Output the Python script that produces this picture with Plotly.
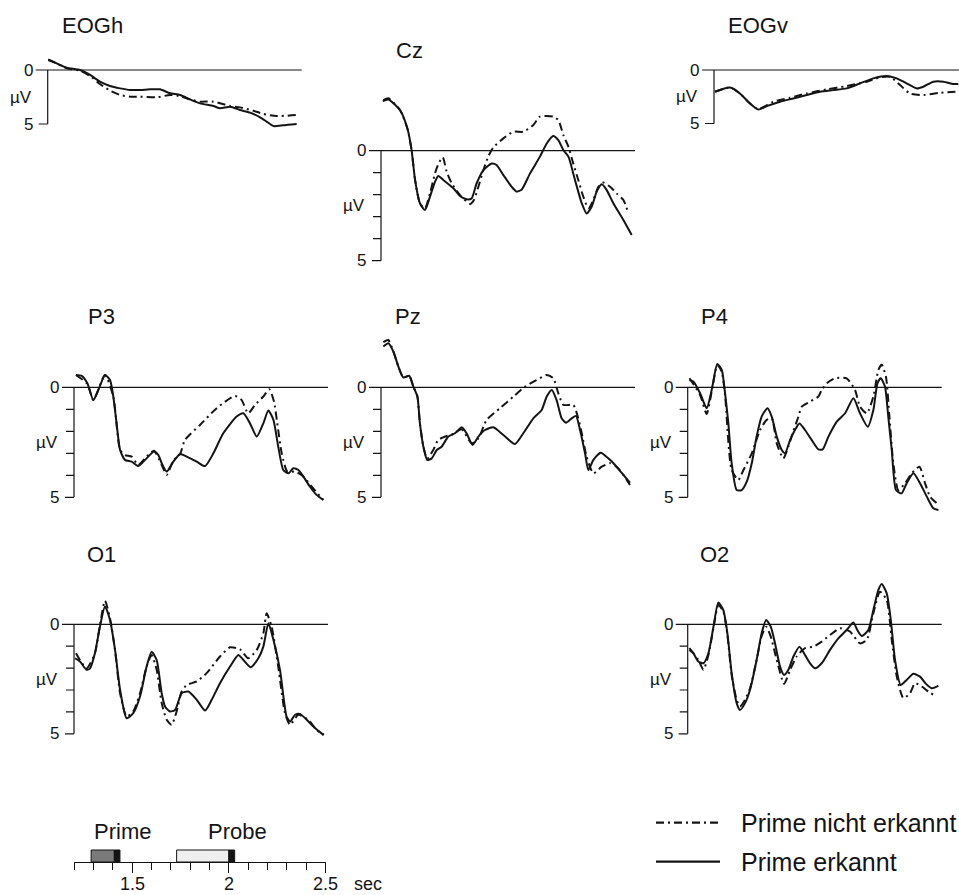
import plotly.graph_objects as go

# Layout is specified on a 959 x 895 design grid; S scales it to the written figure size.
S = 1.0
W0, H0 = 959, 895
W, H = round(W0 * S), round(H0 * S)
FONT = "Liberation Sans, Arial, sans-serif"
INK = "#141414"
SEC_PX = 193.6          # design-grid pixels per second on every time axis
T_START, T_END = 1.2, 2.5

# ---------------------------------------------------------------------------
# Averaged waveforms: time in s, amplitude in µV (positive plotted downward)
# "erk" = Prime erkannt (solid), "nicht" = Prime nicht erkannt (dash-dot)
# ---------------------------------------------------------------------------
eogh_t_erk = [1.203, 1.238, 1.298, 1.367, 1.419, 1.470, 1.522, 1.574, 1.625, 1.677, 1.729, 1.780, 1.832,
              1.884, 1.935, 1.987, 2.056, 2.090, 2.142, 2.193, 2.245, 2.297, 2.331, 2.366, 2.417, 2.486]
eogh_v_erk = [-0.93, -0.68, -0.22, 0.0, 0.46, 1.08, 1.48, 1.70, 1.85, 1.85, 1.79, 1.79, 2.16,
              2.31, 2.72, 3.09, 3.33, 3.55, 3.40, 3.70, 3.95, 4.38, 4.78, 5.19, 5.12, 5.0]
eogh_t_nicht = [1.203, 1.238, 1.298, 1.367, 1.419, 1.470, 1.522, 1.574, 1.625, 1.677, 1.763, 1.832,
                1.884, 1.935, 1.987, 2.056, 2.142, 2.193, 2.262, 2.314, 2.383, 2.486]
eogh_v_nicht = [-0.99, -0.68, -0.15, 0.06, 0.56, 1.30, 1.91, 2.31, 2.47, 2.47, 2.53, 2.31,
                2.41, 2.72, 2.93, 2.93, 3.33, 3.46, 3.77, 4.07, 4.26, 4.17]

eogv_t_erk = [1.205, 1.283, 1.334, 1.386, 1.429, 1.472, 1.541, 1.610, 1.679, 1.748, 1.816, 1.885,
              1.954, 2.023, 2.092, 2.144, 2.195, 2.247, 2.281, 2.333, 2.385, 2.436, 2.462]
eogv_v_erk = [2.03, 1.63, 2.19, 3.13, 3.69, 3.38, 2.97, 2.66, 2.34, 2.03, 1.88, 1.72,
              1.25, 0.78, 0.56, 0.78, 1.25, 1.72, 1.56, 1.09, 1.09, 1.31, 1.31]
eogv_t_nicht = [1.205, 1.283, 1.334, 1.386, 1.429, 1.506, 1.593, 1.679, 1.782, 1.885, 1.989, 2.057,
                2.109, 2.161, 2.212, 2.281, 2.367, 2.462]
eogv_v_nicht = [2.03, 1.63, 2.19, 3.13, 3.65, 2.97, 2.59, 2.19, 1.81, 1.50, 1.09, 0.69,
                0.63, 1.41, 2.19, 2.34, 2.13, 2.03]

cz_t_erk = [1.209, 1.238, 1.298, 1.336, 1.358, 1.376, 1.401, 1.427, 1.453, 1.479, 1.496, 1.522, 1.574,
            1.608, 1.642, 1.668, 1.694, 1.729, 1.772, 1.797, 1.832, 1.875, 1.901, 1.927, 1.970, 2.021,
            2.056, 2.090, 2.116, 2.142, 2.168, 2.202, 2.237, 2.262, 2.288, 2.314, 2.340, 2.366, 2.400,
            2.452, 2.495]
cz_v_erk = [-2.26, -2.33, -1.85, -1.02, -0.03, 1.33, 2.39, 2.70, 2.09, 1.41, 1.15, 1.33, 1.71,
            2.06, 2.21, 2.17, 1.48, 0.88, 0.58, 0.65, 1.11, 1.64, 1.86, 1.76, 1.03, 0.27,
            -0.33, -0.67, -0.48, -0.03, 0.27, 1.33, 2.39, 2.85, 2.55, 1.86, 1.52, 1.79, 2.39,
            3.15, 3.83]
cz_t_nicht = [1.212, 1.238, 1.298, 1.336, 1.358, 1.376, 1.401, 1.427, 1.453, 1.479, 1.496, 1.519, 1.539,
              1.565, 1.608, 1.660, 1.680, 1.703, 1.729, 1.754, 1.780, 1.832, 1.884, 1.935, 1.987, 2.021,
              2.090, 2.116, 2.142, 2.168, 2.193, 2.219, 2.245, 2.271, 2.297, 2.323, 2.348, 2.383, 2.417,
              2.452, 2.478]
cz_v_nicht = [-2.30, -2.38, -1.85, -1.02, -0.03, 1.33, 2.39, 2.62, 1.94, 1.03, 0.61, 0.30, 0.95,
              1.48, 2.02, 2.42, 2.24, 1.64, 0.88, 0.27, -0.15, -0.56, -0.86, -0.86, -1.17, -1.55,
              -1.55, -1.39, -0.71, -0.18, 0.58, 1.33, 2.09, 2.62, 2.24, 1.64, 1.45, 1.64, 1.94,
              2.24, 2.85]

p3_t_erk = [1.210, 1.240, 1.269, 1.300, 1.326, 1.360, 1.386, 1.403, 1.420, 1.438, 1.463, 1.498, 1.532,
            1.575, 1.613, 1.636, 1.653, 1.679, 1.713, 1.748, 1.782, 1.834, 1.877, 1.920, 1.971, 2.040,
            2.075, 2.109, 2.144, 2.178, 2.204, 2.230, 2.255, 2.281, 2.307, 2.333, 2.359, 2.385, 2.419,
            2.453, 2.488]
p3_v_erk = [-0.56, -0.52, -0.18, 0.58, 0.12, -0.56, -0.33, 0.42, 1.64, 2.85, 3.30, 3.38, 3.58,
            3.23, 2.92, 3.08, 3.45, 3.83, 3.38, 3.03, 3.15, 3.38, 3.58, 3.00, 2.09, 1.33,
            1.18, 1.64, 2.24, 1.64, 1.06, 1.48, 2.70, 3.76, 3.91, 3.68, 3.76, 4.06, 4.52,
            4.89, 5.12]
p3_t_nicht = [1.210, 1.269, 1.300, 1.360, 1.403, 1.438, 1.463, 1.498, 1.532, 1.575, 1.613, 1.653, 1.679,
              1.713, 1.748, 1.773, 1.851, 1.937, 2.032, 2.066, 2.100, 2.135, 2.178, 2.209, 2.233, 2.250,
              2.273, 2.302, 2.342, 2.385, 2.428, 2.488]
p3_v_nicht = [-0.56, -0.15, 0.58, -0.56, 0.42, 2.85, 3.08, 3.15, 3.53, 3.15, 2.88, 3.53, 3.98,
              3.33, 3.03, 2.39, 1.71, 0.95, 0.39, 0.58, 1.18, 0.80, 0.42, 0.09, 0.65, 1.64,
              3.00, 3.83, 3.83, 4.06, 4.52, 5.12]

pz_t_erk = [1.212, 1.238, 1.264, 1.290, 1.315, 1.346, 1.367, 1.388, 1.401, 1.419, 1.439, 1.462, 1.488,
            1.513, 1.548, 1.582, 1.617, 1.642, 1.673, 1.703, 1.737, 1.780, 1.832, 1.892, 1.935, 1.987,
            2.030, 2.056, 2.082, 2.107, 2.133, 2.156, 2.185, 2.207, 2.228, 2.254, 2.271, 2.297, 2.335,
            2.374, 2.409, 2.452, 2.486]
pz_v_erk = [-1.85, -2.00, -1.62, -0.94, -0.45, -0.52, -0.03, 0.42, 1.64, 2.70, 3.30, 3.23, 2.85,
            2.70, 2.24, 2.09, 1.82, 2.09, 2.62, 2.24, 1.94, 1.82, 2.17, 2.58, 2.09, 1.41,
            1.03, 0.42, 0.12, 0.58, 1.41, 1.61, 1.41, 1.30, 1.94, 3.00, 3.76, 3.30, 2.97,
            3.23, 3.53, 3.98, 4.33]
pz_t_nicht = [1.212, 1.238, 1.264, 1.290, 1.315, 1.346, 1.367, 1.388, 1.401, 1.419, 1.439, 1.470, 1.496,
              1.531, 1.574, 1.617, 1.668, 1.703, 1.746, 1.815, 1.884, 1.944, 2.004, 2.056, 2.090, 2.116,
              2.142, 2.193, 2.219, 2.237, 2.262, 2.297, 2.340, 2.383, 2.417, 2.452, 2.486]
pz_v_nicht = [-2.05, -2.15, -1.62, -0.94, -0.45, -0.52, -0.03, 0.42, 1.64, 2.70, 3.25, 2.85, 2.39,
              2.24, 2.12, 1.91, 2.55, 2.32, 1.48, 0.95, 0.42, -0.03, -0.33, -0.56, -0.41, 0.27,
              0.80, 0.80, 1.41, 2.09, 3.15, 3.91, 3.61, 3.45, 3.61, 3.98, 4.44]

p4_t_erk = [1.209, 1.229, 1.264, 1.298, 1.324, 1.353, 1.376, 1.393, 1.410, 1.427, 1.453, 1.479, 1.505,
            1.531, 1.556, 1.582, 1.612, 1.634, 1.660, 1.686, 1.703, 1.729, 1.754, 1.777, 1.806, 1.840,
            1.875, 1.897, 1.927, 1.970, 2.013, 2.056, 2.090, 2.130, 2.159, 2.180, 2.197, 2.219, 2.236,
            2.254, 2.276, 2.305, 2.331, 2.366, 2.400, 2.435, 2.469, 2.495]
p4_v_erk = [-0.33, -0.26, 0.27, 0.95, 0.12, -1.06, -0.79, 0.27, 1.64, 3.45, 4.67, 4.67, 4.29,
            3.45, 2.24, 1.33, 0.95, 1.33, 2.24, 2.85, 3.00, 2.39, 1.94, 1.64, 1.94, 2.39,
            2.82, 2.82, 2.24, 1.56, 1.18, 0.50, 1.18, 1.79, 1.03, -0.18, -0.41, -0.03, 1.33,
            2.85, 4.67, 4.82, 4.36, 3.91, 4.36, 4.97, 5.50, 5.58]
p4_t_nicht = [1.209, 1.264, 1.298, 1.324, 1.353, 1.376, 1.393, 1.427, 1.462, 1.488, 1.531, 1.574, 1.608,
              1.634, 1.660, 1.694, 1.720, 1.742, 1.772, 1.789, 1.832, 1.875, 1.892, 1.918, 1.961, 2.021,
              2.064, 2.090, 2.125, 2.159, 2.185, 2.202, 2.224, 2.242, 2.262, 2.288, 2.323, 2.357, 2.397,
              2.426, 2.452, 2.486]
p4_v_nicht = [-0.41, 0.35, 1.21, 0.20, -1.02, -0.70, 0.35, 3.76, 4.21, 3.76, 3.00, 1.94, 1.48,
              1.41, 2.55, 3.23, 2.70, 2.09, 1.33, 0.88, 0.65, 0.42, 0.12, -0.18, -0.41, -0.41,
              0.12, 0.88, 1.18, 0.42, -0.79, -1.02, -0.48, 1.33, 3.45, 4.67, 4.36, 3.91, 3.61,
              4.36, 4.97, 5.27]

o1_t_erk = [1.205, 1.231, 1.265, 1.283, 1.308, 1.334, 1.360, 1.386, 1.412, 1.438, 1.472, 1.506, 1.541,
            1.575, 1.601, 1.627, 1.653, 1.670, 1.696, 1.722, 1.756, 1.791, 1.834, 1.877, 1.911, 1.954,
            2.006, 2.049, 2.075, 2.113, 2.152, 2.178, 2.204, 2.230, 2.264, 2.298, 2.316, 2.342, 2.367,
            2.402, 2.445, 2.488]
o1_v_erk = [1.55, 1.70, 2.08, 2.01, 1.32, 0.11, -0.81, -0.20, 1.17, 2.99, 4.29, 4.06, 3.30,
            1.93, 1.25, 1.63, 3.15, 3.75, 3.98, 3.91, 3.15, 3.07, 3.45, 3.94, 3.45, 2.69,
            1.93, 1.40, 1.63, 1.96, 1.55, 1.02, -0.05, 0.71, 2.08, 4.21, 4.44, 4.13, 4.09,
            4.36, 4.74, 5.05]
o1_t_nicht = [1.210, 1.265, 1.308, 1.334, 1.360, 1.386, 1.412, 1.438, 1.472, 1.506, 1.541, 1.575, 1.601,
              1.627, 1.653, 1.679, 1.704, 1.730, 1.756, 1.782, 1.834, 1.885, 1.954, 2.006, 2.057, 2.100,
              2.144, 2.178, 2.195, 2.221, 2.255, 2.290, 2.316, 2.359, 2.410, 2.453, 2.491]
o1_v_nicht = [1.32, 2.01, 1.32, 0.03, -1.08, -0.27, 1.17, 3.15, 4.21, 3.98, 3.15, 1.93, 1.40,
              2.08, 3.60, 4.36, 4.59, 3.98, 3.07, 2.77, 2.61, 2.23, 1.47, 1.05, 1.14, 1.55,
              1.17, 0.41, -0.50, 0.11, 1.93, 4.06, 4.59, 4.13, 4.36, 4.82, 5.05]

o2_t_erk = [1.209, 1.229, 1.255, 1.281, 1.307, 1.333, 1.358, 1.384, 1.405, 1.427, 1.453, 1.470, 1.496,
            1.522, 1.556, 1.582, 1.605, 1.629, 1.651, 1.677, 1.698, 1.720, 1.746, 1.777, 1.806, 1.832,
            1.858, 1.892, 1.935, 1.978, 2.021, 2.056, 2.076, 2.099, 2.133, 2.159, 2.185, 2.202, 2.228,
            2.249, 2.271, 2.300, 2.331, 2.366, 2.400, 2.431, 2.460, 2.495]
o2_v_erk = [1.17, 1.32, 1.70, 1.78, 1.32, 0.11, -0.99, -0.65, 0.41, 2.23, 3.60, 3.91, 3.60,
            2.99, 1.63, 0.41, -0.20, 0.11, 0.87, 1.93, 2.31, 2.08, 1.47, 1.02, 1.40, 1.78,
            2.01, 1.78, 1.17, 0.64, 0.26, -0.08, 0.26, 0.53, 0.26, -0.65, -1.57, -1.84, -1.41,
            -0.20, 1.63, 2.77, 2.54, 2.26, 2.39, 2.72, 2.92, 2.81]
o2_t_nicht = [1.209, 1.255, 1.281, 1.307, 1.333, 1.358, 1.384, 1.405, 1.427, 1.453, 1.470, 1.496, 1.522,
              1.556, 1.582, 1.605, 1.629, 1.660, 1.698, 1.729, 1.763, 1.806, 1.849, 1.892, 1.935, 1.987,
              2.038, 2.090, 2.125, 2.159, 2.193, 2.228, 2.254, 2.280, 2.314, 2.348, 2.374, 2.409, 2.443,
              2.469]
o2_v_nicht = [1.09, 1.63, 2.08, 1.40, 0.18, -0.88, -0.58, 0.49, 2.31, 3.45, 3.75, 3.45, 2.92,
              1.63, 0.53, 0.11, 0.56, 1.63, 2.72, 2.08, 1.47, 1.09, 1.02, 0.79, 0.49, 0.18,
              0.33, 0.87, 0.71, -0.50, -1.49, -1.11, 0.71, 2.39, 3.37, 3.15, 2.69, 2.84, 3.07,
              3.22]

# stimulus timing on the time scale (s)
prime_on, prime_off, prime_end = 1.288, 1.408, 1.437
probe_on, probe_off, probe_end = 1.730, 2.000, 2.030
time_ticks = [1.5, 2.0, 2.5]
time_ticklabels = ["1.5", "2", "2.5"]
unit_label = "sec"
legend_labels = ["Prime nicht erkannt", "Prime erkannt"]

# Panel layout on the design grid: axis origin (px), µV scale (px per µV), title centre (px)
panels = [
    dict(name="EOGh", erk=(eogh_t_erk, eogh_v_erk), nicht=(eogh_t_nicht, eogh_v_nicht),
         ax=47.7, zy=70.0, s=10.8, eog=True, title=(92, 25)),
    dict(name="Cz", erk=(cz_t_erk, cz_v_erk), nicht=(cz_t_nicht, cz_v_nicht),
         ax=381.0, zy=150.7, s=22.0, eog=False, title=(409, 51)),
    dict(name="EOGv", erk=(eogv_t_erk, eogv_v_erk), nicht=(eogv_t_nicht, eogv_v_nicht),
         ax=714.0, zy=70.0, s=10.7, eog=True, title=(758, 25)),
    dict(name="P3", erk=(p3_t_erk, p3_v_erk), nicht=(p3_t_nicht, p3_v_nicht),
         ax=74.0, zy=387.3, s=22.0, eog=False, title=(101, 316)),
    dict(name="Pz", erk=(pz_t_erk, pz_v_erk), nicht=(pz_t_nicht, pz_v_nicht),
         ax=381.0, zy=387.3, s=22.0, eog=False, title=(408, 316)),
    dict(name="P4", erk=(p4_t_erk, p4_v_erk), nicht=(p4_t_nicht, p4_v_nicht),
         ax=687.7, zy=387.3, s=22.0, eog=False, title=(714, 316)),
    dict(name="O1", erk=(o1_t_erk, o1_v_erk), nicht=(o1_t_nicht, o1_v_nicht),
         ax=74.0, zy=624.3, s=21.9, eog=False, title=(101, 554)),
    dict(name="O2", erk=(o2_t_erk, o2_v_erk), nicht=(o2_t_nicht, o2_v_nicht),
         ax=687.7, zy=624.3, s=21.9, eog=False, title=(714, 554)),
]

DASHDOT = f"{8 * S:.1f}px,{4 * S:.1f}px,{2 * S:.1f}px,{4 * S:.1f}px"
LEFT_PAD = 40   # design px of each panel kept left of its vertical axis (room for labels)
fig = go.Figure()
annotations = []
layout_axes = {}


def px_to_t(dpx):
    return dpx / SEC_PX


def fx_(px):      # design x (px) -> paper fraction
    return px / W0


def fy_(py):      # design y (px, from top) -> paper fraction
    return 1 - py / H0


def font(size):
    return dict(family=FONT, size=size * S, color=INK)


for i, p in enumerate(panels, start=1):
    xname = "x" if i == 1 else f"x{i}"
    yname = "y" if i == 1 else f"y{i}"
    xkey = "xaxis" if i == 1 else f"xaxis{i}"
    ykey = "yaxis" if i == 1 else f"yaxis{i}"

    left_px = max(p["ax"] - LEFT_PAD, 0)
    right_px = min(p["ax"] + 258, W0)
    v_top, v_bot = -3.0, 6.5
    top_px = p["zy"] + v_top * p["s"]
    bot_px = p["zy"] + v_bot * p["s"]
    layout_axes[xkey] = dict(domain=[fx_(left_px), fx_(right_px)],
                             range=[T_START - px_to_t(p["ax"] - left_px),
                                    T_START + px_to_t(right_px - p["ax"])],
                             visible=False, anchor=yname)
    layout_axes[ykey] = dict(domain=[fy_(bot_px), fy_(top_px)],
                             range=[v_bot, v_top], visible=False, anchor=xname)

    # axis frame: zero line, vertical 0..5 µV bar and its ticks
    fx = [T_START - px_to_t(12), T_START + px_to_t(254), None, T_START, T_START, None,
          T_START - px_to_t(9), T_START]
    fy = [0, 0, None, 0, 5, None, 5, 5]
    if not p["eog"]:
        for v in (1, 2, 3, 4):
            fx += [None, T_START - px_to_t(8), T_START]
            fy += [None, v, v]
    fig.add_trace(go.Scatter(x=fx, y=fy, mode="lines", xaxis=xname, yaxis=yname,
                             line=dict(color=INK, width=1.2 * S), hoverinfo="skip", showlegend=False))

    t_n, v_n = p["nicht"]
    fig.add_trace(go.Scatter(x=t_n, y=v_n, mode="lines", xaxis=xname, yaxis=yname,
                             line=dict(color=INK, width=2 * S, dash=DASHDOT, shape="spline", smoothing=0.6),
                             name=legend_labels[0], showlegend=False))
    t_e, v_e = p["erk"]
    fig.add_trace(go.Scatter(x=t_e, y=v_e, mode="lines", xaxis=xname, yaxis=yname,
                             line=dict(color=INK, width=2 * S, shape="spline", smoothing=0.6),
                             name=legend_labels[1], showlegend=False))

    lab_x = T_START - px_to_t(13)
    for v, txt in ((0, "0"), (5, "5")):
        annotations.append(dict(x=lab_x, y=v, xref=xname, yref=yname, text=txt, showarrow=False,
                                xanchor="right", yanchor="middle", font=font(17)))
    annotations.append(dict(x=T_START - px_to_t(27), y=2.5, xref=xname, yref=yname, text="µV",
                            showarrow=False, xanchor="center", yanchor="middle", font=font(17)))
    annotations.append(dict(x=fx_(p["title"][0]), y=fy_(p["title"][1]), xref="paper", yref="paper",
                            text=p["name"], showarrow=False, xanchor="center", yanchor="middle",
                            font=font(22)))

# ---- time scale with stimulus bars ----
k = len(panels) + 1
sx0 = 74.0
sx1 = sx0 + (T_END - T_START) * SEC_PX
axis_y_px = 862.0
label_y_px = 884.0
layout_axes[f"xaxis{k}"] = dict(
    domain=[fx_(sx0), fx_(sx1)], range=[T_START - 0.0005, T_END + 0.0005], anchor=f"y{k}",
    showline=True, linecolor=INK, linewidth=1.2 * S, showgrid=False, zeroline=False,
    ticks="outside", ticklen=10 * S, tickwidth=1.2 * S, tickcolor=INK,
    tickvals=time_ticks, showticklabels=False,
    minor=dict(ticks="outside", ticklen=7 * S, tickwidth=1.2 * S, tickcolor=INK,
               tickvals=[round(T_START + 0.1 * j, 1) for j in range(14)], showgrid=False),
)
layout_axes[f"yaxis{k}"] = dict(domain=[fy_(axis_y_px), fy_(axis_y_px - 45)],
                                range=[0, 45], visible=False, anchor=f"x{k}")
# tick labels of the time scale, placed under their ticks
for tv, tl in zip(time_ticks, time_ticklabels):
    annotations.append(dict(x=tv, y=fy_(label_y_px), xref=f"x{k}", yref="paper", text=tl,
                            showarrow=False, xanchor="center", yanchor="middle", font=font(18)))
annotations.append(dict(x=fx_(352), y=fy_(label_y_px), xref="paper", yref="paper", text=unit_label,
                        showarrow=False, xanchor="left", yanchor="middle", font=font(18)))

shapes = []
for x0, x1, fill in ((prime_on, prime_off, "#7a7a7a"), (prime_off, prime_end, INK),
                     (probe_on, probe_off, "#efefef"), (probe_off, probe_end, INK)):
    shapes.append(dict(type="rect", xref=f"x{k}", yref=f"y{k}", x0=x0, x1=x1, y0=0, y1=12,
                       fillcolor=fill, line=dict(color=INK, width=1)))
annotations.append(dict(x=T_START + px_to_t(92 - sx0), y=31, xref=f"x{k}", yref=f"y{k}", text="Prime",
                        showarrow=False, xanchor="left", yanchor="middle", font=font(22)))
annotations.append(dict(x=T_START + px_to_t(206 - sx0), y=31, xref=f"x{k}", yref=f"y{k}", text="Probe",
                        showarrow=False, xanchor="left", yanchor="middle", font=font(22)))

# ---- line-style key ----
g = k + 1
layout_axes[f"xaxis{g}"] = dict(domain=[fx_(640), 1.0], range=[640, 959], visible=False, anchor=f"y{g}")
layout_axes[f"yaxis{g}"] = dict(domain=[fy_(885), fy_(800)], range=[885, 800], visible=False,
                                anchor=f"x{g}")
for lab, yk, dash in ((legend_labels[0], 822.7, DASHDOT), (legend_labels[1], 861.7, "solid")):
    fig.add_trace(go.Scatter(x=[656, 720], y=[yk, yk], mode="lines", xaxis=f"x{g}", yaxis=f"y{g}",
                             line=dict(color=INK, width=2.2 * S, dash=dash), showlegend=False,
                             hoverinfo="skip"))
    annotations.append(dict(x=739, y=yk, xref=f"x{g}", yref=f"y{g}", text=lab, showarrow=False,
                            xanchor="left", yanchor="middle", font=font(25)))

fig.update_layout(
    width=W, height=H, margin=dict(l=0, r=0, t=0, b=0),
    paper_bgcolor="white", plot_bgcolor="rgba(0,0,0,0)",
    showlegend=False, hovermode=False,
    annotations=annotations, shapes=shapes,
    **layout_axes,
)

fig.write_html("out.html")
